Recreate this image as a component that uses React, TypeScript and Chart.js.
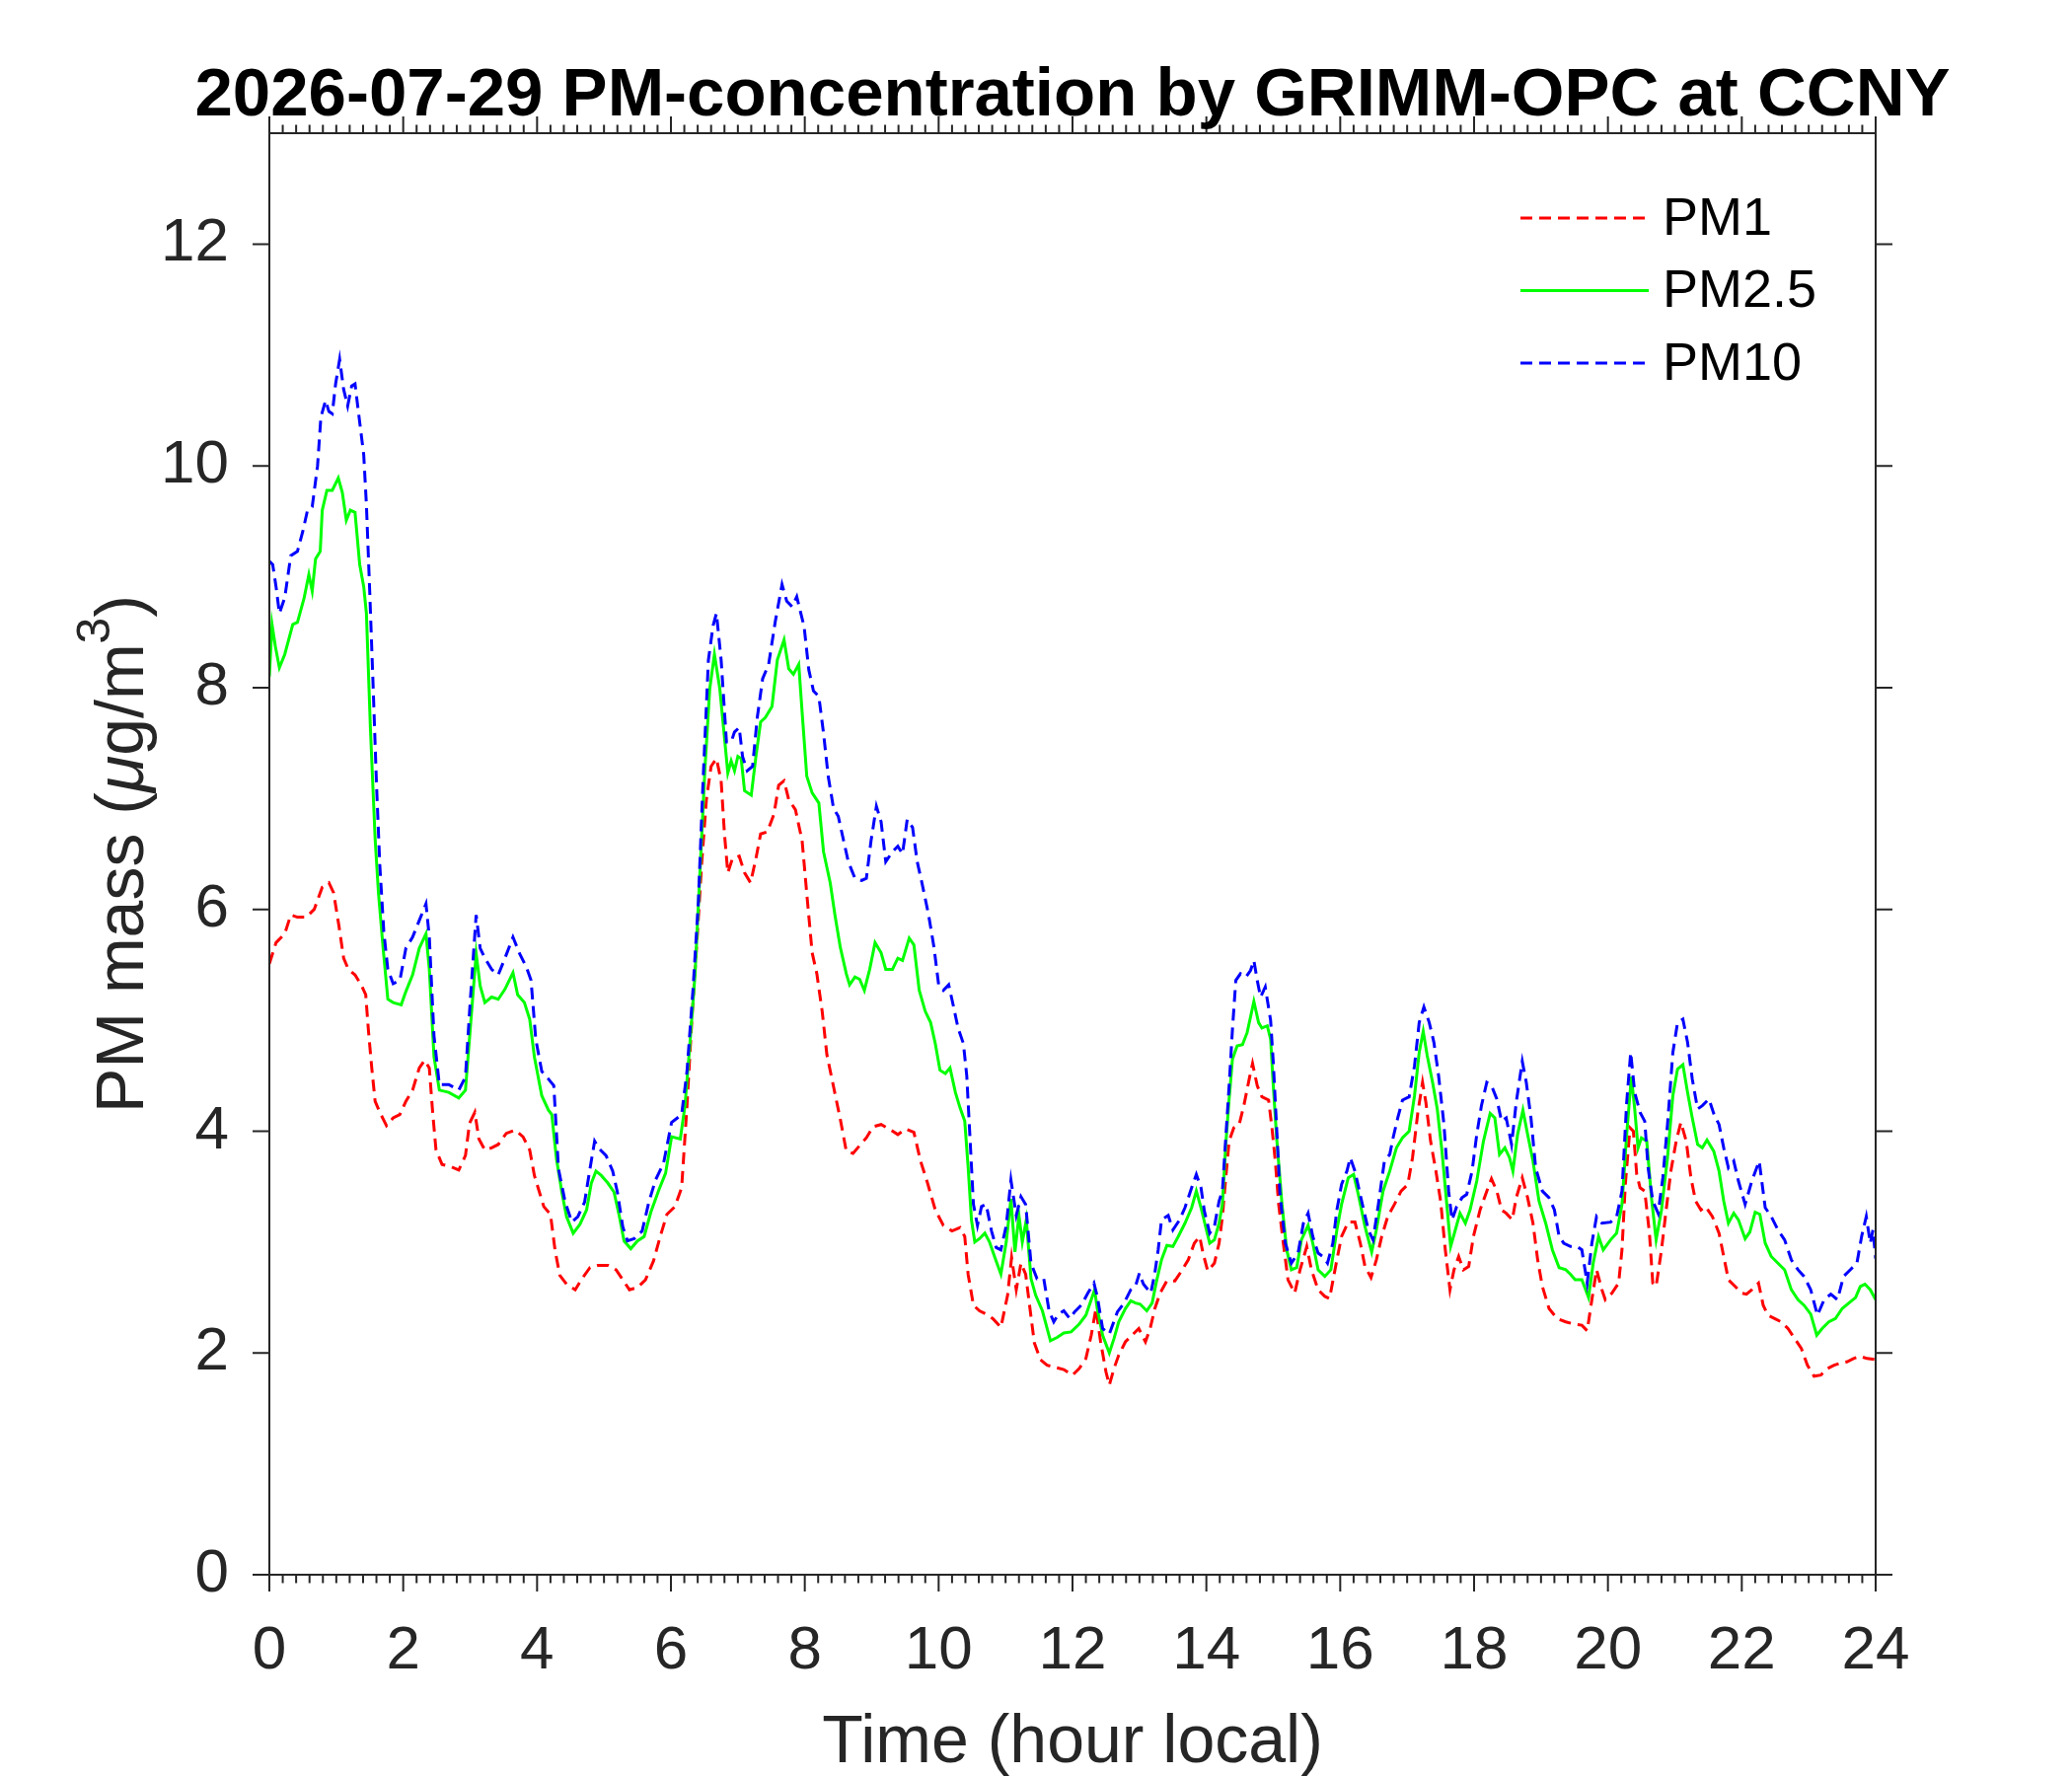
import React, { useEffect, useRef } from "react";
import { Chart, ChartOptions, Plugin } from "chart.js/auto";

// tick labels
const hourTicks = [0, 2, 4, 6, 8, 10, 12, 14, 16, 18, 20, 22, 24];
const massTicks = [0, 2, 4, 6, 8, 10, 12];

// PM1 (hour local / ug/m3)
const pm1Hours = [
  0.0, 0.1, 0.23, 0.32, 0.42, 0.55, 0.67, 0.79, 0.89, 0.96, 1.04, 1.11, 1.18, 1.28, 1.38, 1.44, 1.48, 1.53,
  1.58, 1.65, 1.75, 1.85, 1.95, 2.04, 2.14, 2.24, 2.32, 2.39, 2.44, 2.49, 2.58, 2.71, 2.83, 2.93, 2.99, 3.07,
  3.13, 3.22, 3.32, 3.42, 3.54, 3.67, 3.79, 3.89, 3.96, 4.1, 4.2, 4.27, 4.34, 4.44, 4.57, 4.66, 4.79, 4.91,
  5.06, 5.18, 5.28, 5.38, 5.5, 5.62, 5.74, 5.84, 5.94, 6.06, 6.16, 6.24, 6.31, 6.38, 6.46, 6.53, 6.6, 6.68,
  6.75, 6.8, 6.85, 6.92, 7.02, 7.1, 7.19, 7.27, 7.34, 7.44, 7.54, 7.61, 7.69, 7.76, 7.86, 7.96, 8.03, 8.11,
  8.18, 8.26, 8.33, 8.43, 8.53, 8.62, 8.72, 8.82, 8.92, 9.02, 9.14, 9.26, 9.39, 9.51, 9.63, 9.73, 9.83, 9.95,
  10.07, 10.2, 10.32, 10.39, 10.44, 10.52, 10.61, 10.71, 10.81, 10.93, 11.03, 11.09, 11.16, 11.23, 11.3, 11.35,
  11.43, 11.52, 11.62, 11.74, 11.87, 12.0, 12.1, 12.2, 12.28, 12.35, 12.42, 12.5, 12.55, 12.62, 12.69, 12.79,
  12.89, 12.99, 13.09, 13.16, 13.23, 13.31, 13.41, 13.53, 13.63, 13.73, 13.82, 13.9, 13.95, 14.02, 14.12, 14.19,
  14.24, 14.29, 14.34, 14.41, 14.49, 14.56, 14.64, 14.69, 14.76, 14.83, 14.93, 14.98, 15.03, 15.08, 15.15, 15.22,
  15.32, 15.4, 15.5, 15.57, 15.67, 15.77, 15.84, 15.95, 16.02, 16.12, 16.22, 16.3, 16.37, 16.46, 16.54, 16.62,
  16.71, 16.81, 16.91, 17.01, 17.08, 17.16, 17.23, 17.28, 17.35, 17.43, 17.5, 17.57, 17.64, 17.7, 17.77, 17.84,
  17.92, 17.99, 18.09, 18.19, 18.26, 18.34, 18.41, 18.48, 18.57, 18.63, 18.72, 18.8, 18.88, 18.95, 19.02, 19.12,
  19.24, 19.37, 19.49, 19.61, 19.69, 19.76, 19.83, 19.91, 19.96, 20.06, 20.16, 20.21, 20.26, 20.33, 20.38, 20.43,
  20.48, 20.55, 20.62, 20.67, 20.72, 20.8, 20.87, 20.94, 21.02, 21.09, 21.17, 21.24, 21.31, 21.39, 21.46, 21.56,
  21.66, 21.73, 21.8, 21.9, 22.0, 22.07, 22.15, 22.25, 22.32, 22.39, 22.49, 22.59, 22.69, 22.79, 22.89, 22.98,
  23.08, 23.18, 23.28, 23.38, 23.48, 23.57, 23.67, 23.77, 23.87, 24.0,
];
const pm1Mass = [
  5.51, 5.7, 5.78, 5.95, 5.93, 5.93, 6.0, 6.2, 6.24, 6.15, 5.85, 5.56, 5.46, 5.41, 5.31, 5.23, 4.91, 4.57,
  4.27, 4.17, 4.05, 4.12, 4.15, 4.27, 4.37, 4.57, 4.64, 4.57, 4.17, 3.83, 3.7, 3.68, 3.65, 3.78, 4.07, 4.17,
  3.93, 3.83, 3.85, 3.88, 3.98, 4.01, 3.95, 3.83, 3.6, 3.32, 3.25, 2.92, 2.7, 2.62, 2.57, 2.66, 2.77, 2.79,
  2.79, 2.75, 2.66, 2.57, 2.59, 2.66, 2.83, 3.05, 3.25, 3.32, 3.49, 4.23, 4.98, 5.63, 6.42, 6.99, 7.29, 7.36,
  7.16, 6.68, 6.33, 6.46, 6.48, 6.33, 6.24, 6.46, 6.68, 6.7, 6.86, 7.12, 7.16, 6.99, 6.9, 6.62, 6.14, 5.61,
  5.42, 5.08, 4.69, 4.4, 4.11, 3.82, 3.8, 3.87, 3.94, 4.04, 4.06, 4.02, 3.97, 4.02, 3.99, 3.73, 3.54, 3.29,
  3.15, 3.1, 3.13, 3.05, 2.71, 2.43, 2.38, 2.35, 2.31, 2.23, 2.52, 2.86, 2.57, 2.81, 2.71, 2.47,
  2.09, 1.94, 1.89, 1.87, 1.85, 1.8, 1.86, 1.95, 2.16, 2.4, 2.1, 1.83, 1.71, 1.86, 1.98, 2.1,
  2.16, 2.22, 2.1, 2.22, 2.4, 2.54, 2.65, 2.65, 2.74, 2.84, 2.99, 3.05, 2.9, 2.74, 2.81, 2.99,
  3.23, 3.58, 3.91, 4.03, 4.06, 4.23, 4.47, 4.61, 4.41, 4.31, 4.28, 4.03, 3.73, 3.34, 2.99, 2.66,
  2.54, 2.75, 2.96, 2.75, 2.57, 2.51, 2.49, 2.84, 3.05, 3.18, 3.18, 2.99, 2.78, 2.68, 2.84, 3.05,
  3.23, 3.34, 3.46, 3.52, 3.76, 4.17, 4.44, 4.26, 3.91, 3.64, 3.37, 2.93, 2.57, 2.75, 2.87, 2.75,
  2.78, 3.05, 3.29, 3.46, 3.57, 3.46, 3.29, 3.26, 3.2, 3.4, 3.58, 3.4, 3.17, 2.84, 2.6, 2.4,
  2.31, 2.28, 2.26, 2.25, 2.2, 2.48, 2.75, 2.57, 2.48, 2.54, 2.63, 2.93, 3.52, 4.03, 4.0, 3.61,
  3.49, 3.46, 3.08, 2.63, 2.6, 2.93, 3.29, 3.64, 3.91, 4.08, 3.91, 3.58, 3.37, 3.29, 3.32, 3.23,
  3.08, 2.87, 2.66, 2.6, 2.54, 2.53, 2.57, 2.63, 2.43, 2.34, 2.31, 2.28, 2.22, 2.13, 2.04, 1.89,
  1.79, 1.8, 1.86, 1.89, 1.91, 1.92, 1.95, 1.97, 1.95, 1.94,
];

// PM2.5
const pm25Hours = [
  0.0, 0.04, 0.09, 0.15, 0.23, 0.35, 0.42, 0.52, 0.59, 0.64, 0.69, 0.76, 0.79, 0.86, 0.94, 1.03, 1.09, 1.15,
  1.21, 1.28, 1.35, 1.41, 1.45, 1.51, 1.58, 1.63, 1.7, 1.77, 1.85, 1.97, 2.04, 2.14, 2.24, 2.34, 2.39, 2.46,
  2.54, 2.68, 2.83, 2.93, 3.0, 3.09, 3.15, 3.22, 3.32, 3.42, 3.52, 3.64, 3.71, 3.81, 3.89, 3.96, 4.07, 4.17,
  4.22, 4.29, 4.37, 4.44, 4.54, 4.64, 4.74, 4.81, 4.88, 4.96, 5.06, 5.15, 5.23, 5.3, 5.4, 5.5, 5.6, 5.7,
  5.82, 5.92, 6.01, 6.14, 6.21, 6.28, 6.36, 6.43, 6.51, 6.58, 6.65, 6.73, 6.8, 6.85, 6.9, 6.95, 7.0, 7.05,
  7.1, 7.2, 7.27, 7.34, 7.41, 7.51, 7.59, 7.69, 7.76, 7.83, 7.91, 7.96, 8.03, 8.11, 8.21, 8.28, 8.38, 8.45,
  8.53, 8.62, 8.67, 8.75, 8.82, 8.89, 8.97, 9.05, 9.14, 9.21, 9.31, 9.39, 9.46, 9.56, 9.63, 9.71, 9.8, 9.88,
  9.95, 10.02, 10.1, 10.17, 10.25, 10.32, 10.39, 10.44, 10.49, 10.54, 10.61, 10.69, 10.76, 10.84, 10.93, 11.01,
  11.08, 11.14, 11.2, 11.25, 11.31, 11.38, 11.45, 11.55, 11.67, 11.77, 11.87, 11.98, 12.1, 12.2, 12.28, 12.33,
  12.37, 12.45, 12.55, 12.62, 12.69, 12.79, 12.87, 12.94, 13.01, 13.11, 13.19, 13.26, 13.33, 13.41, 13.5, 13.58,
  13.68, 13.78, 13.85, 13.92, 14.0, 14.05, 14.12, 14.19, 14.24, 14.29, 14.34, 14.39, 14.46, 14.54, 14.61, 14.71,
  14.78, 14.83, 14.91, 14.96, 15.0, 15.05, 15.13, 15.2, 15.27, 15.35, 15.42, 15.52, 15.59, 15.67, 15.77, 15.86,
  15.95, 16.02, 16.12, 16.2, 16.27, 16.37, 16.47, 16.54, 16.64, 16.74, 16.84, 16.93, 17.03, 17.11, 17.18, 17.24,
  17.3, 17.38, 17.45, 17.52, 17.6, 17.65, 17.72, 17.79, 17.87, 17.94, 18.04, 18.14, 18.24, 18.31, 18.38, 18.46,
  18.53, 18.58, 18.65, 18.73, 18.8, 18.88, 18.97, 19.07, 19.17, 19.27, 19.37, 19.44, 19.51, 19.61, 19.71, 19.78,
  19.86, 19.93, 20.04, 20.13, 20.21, 20.28, 20.35, 20.4, 20.45, 20.5, 20.58, 20.65, 20.72, 20.8, 20.89, 20.97,
  21.04, 21.12, 21.19, 21.26, 21.34, 21.41, 21.48, 21.58, 21.66, 21.73, 21.8, 21.88, 21.95, 22.05, 22.12, 22.2,
  22.27, 22.35, 22.44, 22.54, 22.64, 22.74, 22.84, 22.93, 23.03, 23.12, 23.2, 23.3, 23.4, 23.5, 23.6, 23.7,
  23.77, 23.84, 23.92, 24.0,
];
const pm25Mass = [
  8.1, 8.57, 8.37, 8.18, 8.3, 8.57, 8.59, 8.81, 9.02, 8.87, 9.16, 9.23, 9.6, 9.78, 9.78, 9.89, 9.76, 9.51,
  9.6, 9.58, 9.11, 8.91, 8.67, 7.63, 6.64, 6.15, 5.65, 5.19, 5.16, 5.14, 5.26, 5.41, 5.65, 5.78, 5.46, 4.67,
  4.37, 4.35, 4.3, 4.37, 4.91, 5.6, 5.31, 5.16, 5.21, 5.19, 5.28, 5.43, 5.23, 5.16, 5.01, 4.67, 4.32, 4.19,
  4.15, 3.75, 3.45, 3.23, 3.08, 3.16, 3.29, 3.53, 3.64, 3.6, 3.53, 3.45, 3.23, 3.01, 2.94, 3.01, 3.05, 3.27,
  3.47, 3.62, 3.95, 3.93, 4.23, 4.76, 5.41, 6.29, 7.29, 7.99, 8.3, 7.99, 7.55, 7.23, 7.34, 7.25, 7.38, 7.36,
  7.07, 7.03, 7.38, 7.69, 7.73, 7.83, 8.25, 8.43, 8.17, 8.12, 8.21, 7.78, 7.2, 7.05, 6.96, 6.52, 6.24, 5.95,
  5.66, 5.42, 5.32, 5.39, 5.37, 5.27, 5.46, 5.7, 5.61, 5.46, 5.46, 5.56, 5.54, 5.74, 5.68, 5.27, 5.08, 4.98,
  4.79, 4.55, 4.52, 4.57, 4.35, 4.21, 4.09, 3.68, 3.2, 3.0, 3.03, 3.08, 3.0, 2.86, 2.71, 3.0,
  3.39, 2.91, 3.24, 3.0, 3.2, 2.67, 2.52, 2.38, 2.11, 2.14, 2.18, 2.19, 2.26, 2.34, 2.48, 2.57,
  2.4, 2.16, 2.0, 2.13, 2.28, 2.4, 2.47, 2.45, 2.44, 2.38, 2.45, 2.66, 2.84, 2.97, 2.96, 3.05,
  3.17, 3.31, 3.46, 3.31, 3.11, 2.99, 3.02, 3.17, 3.34, 3.88, 4.29, 4.65, 4.77, 4.78, 4.89, 5.17,
  4.98, 4.93, 4.95, 4.83, 4.41, 3.94, 3.34, 2.93, 2.75, 2.77, 3.02, 3.15, 2.99, 2.75, 2.69, 2.75,
  3.11, 3.34, 3.58, 3.61, 3.43, 3.14, 2.91, 3.11, 3.46, 3.64, 3.85, 3.94, 4.0, 4.32, 4.71, 4.9,
  4.68, 4.44, 4.2, 3.82, 3.29, 2.96, 3.11, 3.26, 3.17, 3.29, 3.55, 3.91, 4.16, 4.12, 3.79, 3.85,
  3.76, 3.64, 3.97, 4.19, 3.97, 3.73, 3.37, 3.17, 2.93, 2.77, 2.75, 2.71, 2.66, 2.66, 2.5, 2.81,
  3.05, 2.93, 3.02, 3.08, 3.34, 3.97, 4.49, 4.2, 3.85, 3.94, 3.91, 3.4, 3.02, 3.29, 3.76, 4.32,
  4.56, 4.6, 4.35, 4.12, 3.88, 3.85, 3.92, 3.82, 3.64, 3.37, 3.17, 3.26, 3.2, 3.03, 3.09, 3.27,
  3.25, 2.99, 2.87, 2.81, 2.75, 2.57, 2.48, 2.43, 2.35, 2.16, 2.22, 2.28, 2.31, 2.4, 2.45, 2.5,
  2.6, 2.62, 2.57, 2.48,
];

// PM10
const pm10Hours = [
  0.0, 0.05, 0.1, 0.15, 0.23, 0.32, 0.42, 0.5, 0.57, 0.64, 0.72, 0.77, 0.84, 0.89, 0.94, 0.99, 1.05, 1.11,
  1.17, 1.23, 1.28, 1.33, 1.41, 1.45, 1.5, 1.55, 1.6, 1.65, 1.71, 1.77, 1.85, 1.95, 2.04, 2.14, 2.24, 2.34,
  2.39, 2.46, 2.54, 2.68, 2.83, 2.93, 3.0, 3.09, 3.15, 3.22, 3.32, 3.42, 3.52, 3.64, 3.74, 3.84, 3.91, 3.98,
  4.07, 4.17, 4.25, 4.32, 4.42, 4.52, 4.61, 4.71, 4.79, 4.86, 4.93, 5.03, 5.13, 5.2, 5.28, 5.35, 5.45, 5.57,
  5.67, 5.77, 5.89, 6.01, 6.16, 6.24, 6.33, 6.41, 6.48, 6.56, 6.63, 6.68, 6.75, 6.83, 6.9, 6.95, 7.02, 7.07,
  7.14, 7.22, 7.29, 7.37, 7.46, 7.56, 7.66, 7.73, 7.81, 7.88, 7.99, 8.06, 8.13, 8.21, 8.28, 8.35, 8.43, 8.5,
  8.58, 8.65, 8.75, 8.85, 8.92, 8.99, 9.07, 9.14, 9.21, 9.31, 9.39, 9.46, 9.53, 9.61, 9.68, 9.75, 9.85, 9.93,
  10.0, 10.07, 10.15, 10.22, 10.29, 10.37, 10.42, 10.47, 10.52, 10.58, 10.64, 10.71, 10.79, 10.86, 10.93, 11.01,
  11.08, 11.16, 11.23, 11.3, 11.38, 11.47, 11.57, 11.65, 11.72, 11.79, 11.87, 11.96, 12.03, 12.13, 12.23, 12.32,
  12.37, 12.45, 12.55, 12.67, 12.77, 12.87, 12.94, 13.0, 13.06, 13.17, 13.23, 13.28, 13.33, 13.43, 13.5, 13.6,
  13.68, 13.78, 13.85, 13.92, 13.97, 14.05, 14.12, 14.19, 14.24, 14.29, 14.34, 14.39, 14.44, 14.51, 14.59, 14.66,
  14.71, 14.76, 14.81, 14.88, 14.96, 15.0, 15.05, 15.1, 15.18, 15.27, 15.37, 15.45, 15.52, 15.59, 15.67, 15.74,
  15.81, 15.89, 15.95, 16.02, 16.1, 16.15, 16.22, 16.32, 16.42, 16.49, 16.57, 16.66, 16.74, 16.79, 16.86, 16.93,
  17.03, 17.11, 17.18, 17.25, 17.33, 17.4, 17.47, 17.55, 17.62, 17.67, 17.74, 17.82, 17.89, 17.97, 18.04, 18.11,
  18.19, 18.26, 18.34, 18.41, 18.48, 18.56, 18.63, 18.72, 18.78, 18.85, 18.92, 19.02, 19.12, 19.2, 19.27, 19.34,
  19.44, 19.54, 19.61, 19.69, 19.76, 19.83, 19.91, 20.04, 20.13, 20.21, 20.28, 20.34, 20.4, 20.48, 20.55, 20.6,
  20.67, 20.75, 20.82, 20.89, 20.97, 21.04, 21.12, 21.19, 21.26, 21.34, 21.41, 21.51, 21.58, 21.66, 21.73, 21.8,
  21.88, 21.95, 22.05, 22.15, 22.26, 22.35, 22.44, 22.54, 22.64, 22.74, 22.84, 22.93, 23.03, 23.13, 23.23, 23.33,
  23.43, 23.52, 23.62, 23.72, 23.79, 23.86, 23.92, 23.96, 24.0,
];
const pm10Mass = [
  9.14, 9.11, 8.91, 8.67, 8.81, 9.19, 9.23, 9.41, 9.6, 9.63, 10.0, 10.44, 10.59, 10.49, 10.47, 10.74, 10.96, 10.69,
  10.54, 10.72, 10.74, 10.49, 10.1, 9.65, 8.86, 8.02, 7.14, 6.4, 5.8, 5.46, 5.33, 5.36, 5.65, 5.75, 5.9, 6.05,
  5.75, 4.86, 4.42, 4.42, 4.37, 4.49, 5.16, 5.95, 5.65, 5.56, 5.46, 5.41, 5.56, 5.75, 5.6, 5.48, 5.36, 4.83,
  4.54, 4.47, 4.41, 3.66, 3.36, 3.18, 3.23, 3.36, 3.66, 3.91, 3.84, 3.78, 3.64, 3.45, 3.14, 3.01, 3.03, 3.1,
  3.36, 3.56, 3.71, 4.08, 4.15, 4.54, 5.28, 6.07, 7.16, 8.25, 8.56, 8.67, 8.25, 7.51, 7.51, 7.6, 7.64, 7.38,
  7.25, 7.29, 7.73, 8.08, 8.21, 8.6, 8.93, 8.78, 8.73, 8.82, 8.55, 8.16, 7.97, 7.92, 7.59, 7.2, 6.91, 6.84,
  6.62, 6.43, 6.28, 6.26, 6.28, 6.62, 6.93, 6.79, 6.43, 6.52, 6.57, 6.5, 6.81, 6.74, 6.43, 6.24, 5.95, 5.66,
  5.32, 5.27, 5.32, 5.13, 4.93, 4.79, 4.5, 3.92, 3.34, 3.15, 3.32, 3.34, 3.1, 2.95, 2.93, 3.15,
  3.56, 3.24, 3.41, 3.34, 2.81, 2.67, 2.67, 2.38, 2.28, 2.35, 2.38, 2.31, 2.37, 2.43, 2.54, 2.63,
  2.51, 2.22, 2.17, 2.37, 2.45, 2.57, 2.6, 2.72, 2.62, 2.54, 2.72, 2.93, 3.2, 3.24, 3.11, 3.2,
  3.31, 3.49, 3.61, 3.49, 3.28, 3.08, 3.14, 3.37, 3.46, 3.94, 4.41, 4.92, 5.36, 5.42, 5.39, 5.45,
  5.54, 5.36, 5.21, 5.3, 5.0, 4.62, 4.03, 3.43, 2.99, 2.81, 2.9, 3.17, 3.26, 3.05, 2.9, 2.87,
  2.81, 2.99, 3.29, 3.52, 3.64, 3.76, 3.64, 3.37, 3.11, 3.02, 3.34, 3.73, 3.79, 3.94, 4.12, 4.28,
  4.31, 4.59, 4.98, 5.12, 4.98, 4.8, 4.5, 4.06, 3.46, 3.2, 3.32, 3.4, 3.43, 3.64, 3.97, 4.23,
  4.44, 4.41, 4.29, 4.09, 4.12, 3.88, 4.26, 4.63, 4.44, 4.12, 3.67, 3.46, 3.4, 3.29, 3.05, 2.99,
  2.96, 2.96, 2.93, 2.63, 2.99, 3.23, 3.17, 3.18, 3.23, 3.46, 4.26, 4.71, 4.35, 4.17, 4.09, 3.67,
  3.37, 3.26, 3.58, 4.06, 4.71, 4.98, 5.01, 4.8, 4.47, 4.2, 4.23, 4.29, 4.16, 4.06, 3.85, 3.67,
  3.73, 3.55, 3.34, 3.55, 3.73, 3.31, 3.23, 3.11, 3.02, 2.84, 2.75, 2.69, 2.57, 2.34, 2.48, 2.53,
  2.48, 2.69, 2.75, 2.81, 3.05, 3.23, 2.99, 3.11, 2.85,
];

const FONT = "'Liberation Sans', Arial, Helvetica, sans-serif";
const INK = "#262626";

const toPoints = (hours: number[], mass: number[]) =>
  hours.map((h, i) => ({ x: h, y: mass[i] }));

// box, ticks, titles and legend drawn on top of the chart
const matlabAxes: Plugin<"line"> = {
  id: "matlabAxes",
  afterDraw(chart) {
    const { ctx, chartArea: a } = chart;
    const xs = chart.scales.x;
    const ys = chart.scales.y;
    ctx.save();

    ctx.strokeStyle = INK;
    ctx.lineWidth = 2;
    ctx.strokeRect(a.left, a.top, a.right - a.left, a.bottom - a.top);

    ctx.beginPath();
    for (let i = 0; i < hourTicks.length; i++) {
      const major = xs.getPixelForValue(hourTicks[i]);
      ctx.moveTo(major, a.bottom);
      ctx.lineTo(major, a.bottom + 17);
      ctx.moveTo(major, a.top);
      ctx.lineTo(major, a.top - 17);
      if (i < hourTicks.length - 1) {
        const step = (hourTicks[i + 1] - hourTicks[i]) / 10;
        for (let k = 1; k < 10; k++) {
          const px = xs.getPixelForValue(hourTicks[i] + k * step);
          ctx.moveTo(px, a.bottom);
          ctx.lineTo(px, a.bottom + 8.5);
          ctx.moveTo(px, a.top);
          ctx.lineTo(px, a.top - 8.5);
        }
      }
    }
    massTicks.forEach((v) => {
      const py = ys.getPixelForValue(v);
      ctx.moveTo(a.left, py);
      ctx.lineTo(a.left - 17, py);
      ctx.moveTo(a.right, py);
      ctx.lineTo(a.right + 17, py);
    });
    ctx.stroke();

    const cx = (a.left + a.right) / 2;
    const cy = (a.top + a.bottom) / 2;

    // title
    ctx.fillStyle = "#000000";
    ctx.font = `bold 69px ${FONT}`;
    ctx.textAlign = "center";
    ctx.textBaseline = "alphabetic";
    ctx.fillText("2026-07-29 PM-concentration by GRIMM-OPC at CCNY", cx, 117);

    // x label
    ctx.fillStyle = INK;
    ctx.font = `68px ${FONT}`;
    ctx.fillText("Time (hour local)", cx, 1786);

    // y label, with italic mu and superscript 3
    const parts = [
      { t: "PM mass (", f: `68px ${FONT}`, rise: 0 },
      { t: "\u03bc", f: `italic 68px ${FONT}`, rise: 0 },
      { t: "g/m", f: `68px ${FONT}`, rise: 0 },
      { t: "3", f: `48px ${FONT}`, rise: 34 },
      { t: ")", f: `68px ${FONT}`, rise: 0 },
    ];
    const widths = parts.map((p) => {
      ctx.font = p.f;
      return ctx.measureText(p.t).width;
    });
    const total = widths.reduce((s, w) => s + w, 0);
    ctx.save();
    ctx.translate(145, cy);
    ctx.rotate(-Math.PI / 2);
    ctx.textAlign = "left";
    let pos = -total / 2;
    parts.forEach((p, i) => {
      ctx.font = p.f;
      ctx.fillText(p.t, pos, -p.rise);
      pos += widths[i];
    });
    ctx.restore();

    // legend
    ctx.textAlign = "left";
    ctx.textBaseline = "middle";
    ctx.font = `54px ${FONT}`;
    chart.data.datasets.forEach((ds: any, i) => {
      const rowY = 221 + i * 73.5;
      ctx.beginPath();
      ctx.strokeStyle = ds.borderColor;
      ctx.lineWidth = ds.borderWidth;
      ctx.setLineDash(ds.borderDash || []);
      ctx.moveTo(1541, rowY);
      ctx.lineTo(1671, rowY);
      ctx.stroke();
      ctx.setLineDash([]);
      ctx.fillStyle = "#000000";
      ctx.fillText(ds.label, 1685, rowY + 2);
    });

    ctx.restore();
  },
};

const App: React.FC = () => {
  const canvasRef = useRef<HTMLCanvasElement | null>(null);

  useEffect(() => {
    document.body.style.margin = "0";
    if (!canvasRef.current) return;

    const tickFont = { family: FONT, size: 62 };
    const options: ChartOptions<"line"> = {
      responsive: false,
      animation: false,
      devicePixelRatio: 1,
      layout: { padding: { left: 0, top: 135, right: 199, bottom: 0 } },
      plugins: {
        legend: { display: false },
        tooltip: { enabled: false },
        title: { display: false },
      },
      elements: { point: { radius: 0 }, line: { tension: 0 } },
      scales: {
        x: {
          type: "linear",
          min: 0,
          max: 24,
          afterBuildTicks: (s) => {
            s.ticks = hourTicks.map((v) => ({ value: v }));
          },
          afterFit: (s) => {
            s.height = 204;
          },
          grid: { display: false, drawTicks: false },
          border: { display: false },
          ticks: {
            autoSkip: false,
            maxRotation: 0,
            padding: 41,
            color: INK,
            font: tickFont,
            callback: (v) => String(v),
          },
        },
        y: {
          type: "linear",
          min: 0,
          max: 13,
          afterBuildTicks: (s) => {
            s.ticks = massTicks.map((v) => ({ value: v }));
          },
          afterFit: (s) => {
            s.width = 273;
          },
          grid: { display: false, drawTicks: false },
          border: { display: false },
          ticks: {
            padding: 41,
            color: INK,
            font: tickFont,
            callback: (v) => String(v),
          },
        },
      },
    };

    const chart = new Chart(canvasRef.current, {
      type: "line",
      data: {
        datasets: [
          {
            label: "PM1",
            data: toPoints(pm1Hours, pm1Mass),
            borderColor: "#ff0000",
            borderWidth: 3,
            borderDash: [12, 7],
            order: 3,
          },
          {
            label: "PM2.5",
            data: toPoints(pm25Hours, pm25Mass),
            borderColor: "#00ff00",
            borderWidth: 3,
            order: 2,
          },
          {
            label: "PM10",
            data: toPoints(pm10Hours, pm10Mass),
            borderColor: "#0000ff",
            borderWidth: 3,
            borderDash: [12, 7],
            order: 1,
          },
        ],
      },
      options,
      plugins: [matlabAxes],
    });

    return () => {
      chart.destroy();
    };
  }, []);

  return (
    <div style={{ width: 2100, height: 1800, background: "#ffffff" }}>
      <canvas ref={canvasRef} width={2100} height={1800} style={{ display: "block" }} />
    </div>
  );
};

export default App;
